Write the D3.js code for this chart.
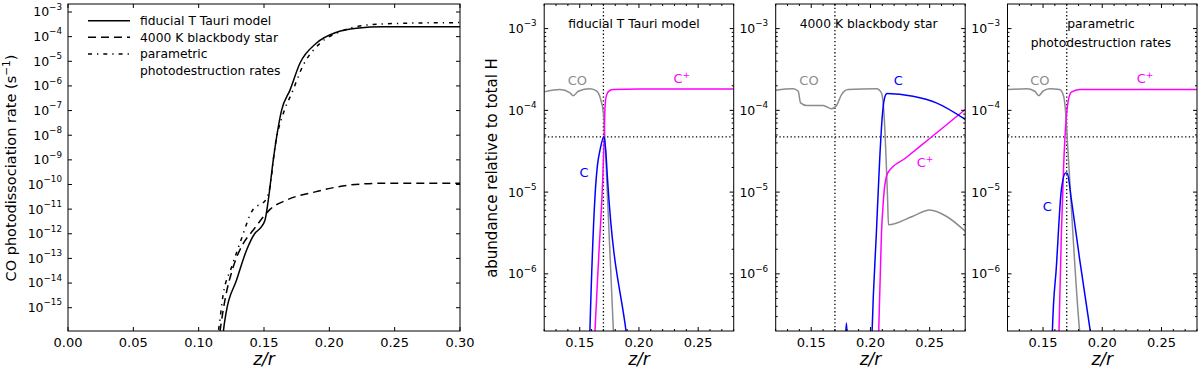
<!DOCTYPE html>
<html><head><meta charset="utf-8">
<script src="https://cdn.jsdelivr.net/npm/d3@7"></script>
<style>body{margin:0;background:#fff} svg{display:block} text{font-family:"DejaVu Sans",sans-serif}</style>
</head><body><svg id="c" width="1200" height="376"></svg>
<script>
// ---------------- DATA ----------------
// Left panel: CO photodissociation rate (log10 s^-1) vs z/r
const fidRateZ   = [0.118, 0.1189, 0.1209, 0.129, 0.1367, 0.1431, 0.147, 0.1508, 0.1533, 0.1571, 0.1635, 0.1699, 0.1775, 0.19, 0.2056, 0.2209, 0.2413, 0.27, 0.30];
const fidRateLog = [-16.5, -15.97, -15.23, -13.88, -12.66, -11.98, -11.78, -11.44, -10.63, -9.0, -6.98, -6.17, -5.08, -4.27, -3.82, -3.66, -3.6, -3.6, -3.6];
const bbRateZ    = [0.115, 0.1163, 0.1201, 0.1265, 0.1342, 0.1418, 0.1495, 0.1546, 0.1674, 0.19, 0.2158, 0.2413, 0.27, 0.30];
const bbRateLog  = [-16.5, -15.97, -14.69, -13.34, -12.39, -11.85, -11.31, -11.01, -10.63, -10.29, -10.02, -9.95, -9.95, -9.95];
const parRateZ   = [0.113, 0.115, 0.1189, 0.1253, 0.1329, 0.1406, 0.1521, 0.1546, 0.1584, 0.1648, 0.1712, 0.1801, 0.1929, 0.2082, 0.2286, 0.2541, 0.30];
const parRateLog = [-16.5, -15.97, -14.42, -13.34, -12.18, -11.1, -10.56, -10.09, -8.47, -7.11, -6.3, -5.15, -4.27, -3.8, -3.53, -3.46, -3.43];
const legendLabels = ["fiducial T Tauri model", "4000 K blackbody star", "parametric", "photodestruction rates"];
const leftXTicks = [0.00, 0.05, 0.10, 0.15, 0.20, 0.25, 0.30];
const leftYTickExp = [-3, -4, -5, -6, -7, -8, -9, -10, -11, -12, -13, -14, -15];

// Panel "fiducial T Tauri model": abundances (log10)
const fidCOZ  = [0.12, 0.1333, 0.1418, 0.1446, 0.1488, 0.1587, 0.1644, 0.1677, 0.17, 0.1715, 0.1728, 0.1784, 0.18];
const fidCOLog= [-3.774, -3.746, -3.786, -3.82, -3.766, -3.737, -3.766, -3.868, -4.03, -4.4, -4.85, -6.69, -7.2];
const fidCpZ  = [0.162, 0.1629, 0.166, 0.1694, 0.1705, 0.1714, 0.1725, 0.175, 0.1784, 0.20, 0.28];
const fidCpLog= [-7.0, -6.69, -5.8, -4.85, -4.4, -3.95, -3.82, -3.76, -3.745, -3.74, -3.74];
const fidCZ   = [0.158, 0.1586, 0.1629, 0.1649, 0.1672, 0.1705, 0.172, 0.1735, 0.189, 0.19];
const fidCLog = [-7.0, -6.69, -5.05, -4.68, -4.48, -4.32, -4.5, -4.85, -6.69, -6.8];

// Panel "4000 K blackbody star"
const bbCOZ   = [0.12, 0.1348, 0.139, 0.141, 0.1461, 0.1601, 0.1672, 0.1714, 0.1756, 0.1811, 0.2051, 0.2093, 0.2112, 0.2145, 0.2152, 0.2359, 0.2499, 0.264, 0.28];
const bbCOLog = [-3.754, -3.737, -3.766, -3.908, -3.94, -3.94, -3.98, -3.94, -3.807, -3.746, -3.737, -3.786, -3.99, -5.1, -5.40, -5.295, -5.22, -5.295, -5.478];
const bbCZ    = [0.1775, 0.1797, 0.182, 0.19, 0.2005, 0.2014, 0.205, 0.2078, 0.21, 0.2119, 0.214, 0.2359, 0.2556, 0.28];
const bbCLog  = [-7.2, -6.6, -7.2, -7.5, -7.2, -6.7, -5.5, -4.6, -4.07, -3.85, -3.795, -3.828, -3.908, -4.11];
const bbCpZ   = [0.2065, 0.207, 0.2093, 0.2106, 0.212, 0.2148, 0.23, 0.25, 0.265, 0.28];
const bbCpLog = [-7.0, -6.7, -5.5, -5.17, -4.93, -4.76, -4.58, -4.344, -4.167, -3.99];

// Panel "parametric photodestruction rates"
const parCOZ  = [0.12, 0.136, 0.143, 0.1464, 0.15, 0.1556, 0.164, 0.1674, 0.1691, 0.171, 0.1809, 0.183];
const parCOLog= [-3.746, -3.737, -3.766, -3.82, -3.766, -3.737, -3.746, -3.828, -4.03, -4.48, -6.7, -7.0];
const parCpZ  = [0.163, 0.1635, 0.1655, 0.1674, 0.1691, 0.171, 0.1739, 0.1809, 0.28];
const parCpLog= [-7.0, -6.7, -5.5, -4.68, -4.19, -3.908, -3.778, -3.746, -3.746];
const parCZ   = [0.1575, 0.1579, 0.1613, 0.1655, 0.1691, 0.1705, 0.1739, 0.1809, 0.1899, 0.191];
const parCLog = [-7.0, -6.7, -5.906, -4.97, -4.765, -4.77, -5.09, -5.82, -6.7, -6.8];

const panelTitles = [["fiducial T Tauri model"], ["4000 K blackbody star"], ["parametric", "photodestruction rates"]];
// species label positions [z, log10 abundance]
const labelCO = [[0.148, -3.636], [0.1481, -3.636], [0.1474, -3.636]];
const labelC  = [[0.1536, -4.765], [0.2235, -3.636], [0.1535, -5.17]];
const labelCp = [[0.2361, -3.615], [0.2461, -4.643], [0.2361, -3.615]];
const rightXTicks = [0.15, 0.20, 0.25];
const rightYTickExp = [-3, -4, -5, -6];
const refAbund = 4.73e-5;   // horizontal dotted reference
const refZ = 0.17;          // vertical dotted reference

// ---------------- DRAW ----------------
const svg = d3.select('#c');
const zip = (a, b) => a.map((v, i) => [v, b[i]]);
const TOP = 4, BOT = 331;

function yTickLabel(g, x, y, exp, size) {
  const t = g.append('text').attr('x', x).attr('y', y + 4.4).attr('text-anchor', 'end')
    .attr('font-size', size).attr('fill', '#000').text('10');
  t.append('tspan').attr('font-size', size * 0.7).attr('dy', -6.6).text('\u2212' + Math.abs(exp));
}

function frameTicks(g, x, y, x0, x1, xMaj, xMin, yMaj, yMin) {
  const tk = g.append('g').attr('stroke', '#000').attr('stroke-width', 1);
  const L = 4, l = 2;
  xMaj.forEach(v => { const px = x(v);
    tk.append('line').attr('x1', px).attr('x2', px).attr('y1', BOT).attr('y2', BOT - L);
    tk.append('line').attr('x1', px).attr('x2', px).attr('y1', TOP).attr('y2', TOP + L); });
  xMin.forEach(v => { const px = x(v);
    tk.append('line').attr('x1', px).attr('x2', px).attr('y1', BOT).attr('y2', BOT - l);
    tk.append('line').attr('x1', px).attr('x2', px).attr('y1', TOP).attr('y2', TOP + l); });
  yMaj.forEach(v => { const py = y(v);
    tk.append('line').attr('x1', x0).attr('x2', x0 + L).attr('y1', py).attr('y2', py);
    tk.append('line').attr('x1', x1).attr('x2', x1 - L).attr('y1', py).attr('y2', py); });
  yMin.forEach(v => { const py = y(v);
    tk.append('line').attr('x1', x0).attr('x2', x0 + l).attr('y1', py).attr('y2', py);
    tk.append('line').attr('x1', x1).attr('x2', x1 - l).attr('y1', py).attr('y2', py); });
  g.append('rect').attr('x', x0).attr('y', TOP).attr('width', x1 - x0).attr('height', BOT - TOP)
    .attr('fill', 'none').attr('stroke', '#000').attr('stroke-width', 1);
}

// ---- Left panel ----
(function () {
  const x0 = 68, x1 = 460;
  const x = d3.scaleLinear().domain([0, 0.30]).range([x0, x1]);
  const y = d3.scaleLog().domain([Math.pow(10, -15.946), Math.pow(10, -2.675)]).range([BOT, TOP]);
  const g = svg.append('g');
  g.append('clipPath').attr('id', 'clipL').append('rect').attr('x', x0).attr('y', TOP).attr('width', x1 - x0).attr('height', BOT - TOP);
  const line = d3.line().x(d => x(d[0])).y(d => y(Math.pow(10, d[1]))).curve(d3.curveMonotoneX);
  const lg = g.append('g').attr('clip-path', 'url(#clipL)').attr('fill', 'none').attr('stroke', '#000').attr('stroke-width', 1.5);
  lg.append('path').attr('d', line(zip(bbRateZ, bbRateLog))).attr('stroke-dasharray', '8,5');
  lg.append('path').attr('d', line(zip(parRateZ, parRateLog))).attr('stroke-dasharray', '4,5,1.3,5');
  lg.append('path').attr('d', line(zip(fidRateZ, fidRateLog)));

  const yMaj = leftYTickExp.map(e => Math.pow(10, e));
  frameTicks(g, x, y, x0, x1, leftXTicks, [], yMaj, []);
  leftXTicks.forEach(v => g.append('text').attr('x', x(v)).attr('y', 346.7).attr('text-anchor', 'middle')
    .attr('font-size', 13).text(d3.format('.2f')(v)));
  leftYTickExp.forEach(e => yTickLabel(g, x0 - 6, y(Math.pow(10, e)), e, 12.5));
  const yl = g.append('text').attr('transform', 'translate(15.5,168) rotate(-90)').attr('text-anchor', 'middle')
    .attr('font-size', 14.5).text('CO photodissociation rate (s');
  yl.append('tspan').attr('font-size', 10.5).attr('dy', -6).text('\u22121');
  yl.append('tspan').attr('dy', 6).text(')');
  g.append('text').attr('x', (x0 + x1) / 2).attr('y', 365).attr('text-anchor', 'middle')
    .attr('font-family', '"Liberation Serif",serif').attr('font-style', 'italic').attr('font-size', 17).text('z/r');

  // legend
  const lgd = g.append('g');
  const rows = [[20.7, null], [37.3, '8,5'], [54, '4,5,1.3,5']];
  rows.forEach((r, i) => {
    const l = lgd.append('line').attr('x1', 88).attr('x2', 130).attr('y1', r[0]).attr('y2', r[0])
      .attr('stroke', '#000').attr('stroke-width', 1.5);
    if (r[1]) l.attr('stroke-dasharray', r[1]);
  });
  [25, 41.6, 58.3, 75].forEach((by, i) => lgd.append('text').attr('x', 140).attr('y', by)
    .attr('font-size', 12.3).text(legendLabels[i]));
})();

// ---- Right panels ----
const rightPanels = [
  { x0: 544.2, co: zip(fidCOZ, fidCOLog), c: zip(fidCZ, fidCLog), cp: zip(fidCpZ, fidCpLog), tx: 634, ylabel: true },
  { x0: 775.7, co: zip(bbCOZ, bbCOLog),  c: zip(bbCZ, bbCLog),   cp: zip(bbCpZ, bbCpLog),   tx: 868.7 },
  { x0: 1007.5, co: zip(parCOZ, parCOLog), c: zip(parCZ, parCLog), cp: zip(parCpZ, parCpLog), tx: 1101 }
];
const PW = 189.5;
const grey = '#8c8c8c', blue = '#0000ff', mag = '#ff00ff';
rightPanels.forEach((p, i) => {
  const x0 = p.x0, x1 = p.x0 + PW;
  const x = d3.scaleLinear().domain([0.12, 0.28]).range([x0, x1]);
  const y = d3.scaleLog().domain([2e-7, 2e-3]).range([BOT, TOP]);
  const g = svg.append('g');
  const cid = 'clipR' + i;
  g.append('clipPath').attr('id', cid).append('rect').attr('x', x0).attr('y', TOP).attr('width', PW).attr('height', BOT - TOP);
  const line = d3.line().x(d => x(d[0])).y(d => y(Math.pow(10, d[1]))).curve(d3.curveMonotoneX);
  const cg = g.append('g').attr('clip-path', `url(#${cid})`).attr('fill', 'none');
  // dotted references
  cg.append('line').attr('x1', x0).attr('x2', x1).attr('y1', y(refAbund)).attr('y2', y(refAbund))
    .attr('stroke', '#000').attr('stroke-width', 1.3).attr('stroke-dasharray', '1.3,2.4');
  cg.append('line').attr('x1', x(refZ)).attr('x2', x(refZ)).attr('y1', TOP).attr('y2', BOT)
    .attr('stroke', '#000').attr('stroke-width', 1.3).attr('stroke-dasharray', '1.3,2.4');
  cg.append('path').attr('d', line(p.co)).attr('stroke', grey).attr('stroke-width', 1.5);
  cg.append('path').attr('d', line(p.cp)).attr('stroke', mag).attr('stroke-width', 1.5);
  cg.append('path').attr('d', line(p.c)).attr('stroke', blue).attr('stroke-width', 1.5);

  const xMin = d3.range(12, 29).map(k => k / 100).filter(v => !rightXTicks.some(t => Math.abs(t - v) < 1e-9));
  const yMaj = rightYTickExp.map(e => Math.pow(10, e));
  const yMin = [];
  for (let d = -7; d <= -3; d++) for (let m = 2; m <= 9; m++) { const v = m * Math.pow(10, d); if (v > 2e-7 && v < 2e-3) yMin.push(v); }
  frameTicks(g, x, y, x0, x1, rightXTicks, xMin, yMaj, yMin);
  rightXTicks.forEach(v => g.append('text').attr('x', x(v)).attr('y', 346.7).attr('text-anchor', 'middle')
    .attr('font-size', 13).text(d3.format('.2f')(v)));
  rightYTickExp.forEach(e => yTickLabel(g, x0 - 7.5, y(Math.pow(10, e)), e, 12.5));
  g.append('text').attr('x', (x0 + x1) / 2).attr('y', 365).attr('text-anchor', 'middle')
    .attr('font-family', '"Liberation Serif",serif').attr('font-style', 'italic').attr('font-size', 17).text('z/r');
  if (p.ylabel) g.append('text').attr('transform', 'translate(497,168) rotate(-90)').attr('text-anchor', 'middle')
    .attr('font-size', 15).text('abundance relative to total H');
  panelTitles[i].forEach((t, k) => g.append('text').attr('x', p.tx).attr('y', 28.3 + k * 18.4)
    .attr('text-anchor', 'middle').attr('font-size', 12.3).text(t));
  // species labels
  const lab = (pos, txt, col, sup) => {
    const t = g.append('text').attr('x', x(pos[0])).attr('y', y(Math.pow(10, pos[1])) + 4.5)
      .attr('text-anchor', 'middle').attr('font-size', 13).attr('fill', col).text(txt);
    if (sup) t.append('tspan').attr('font-size', 9).attr('dy', -5.5).text(sup);
  };
  lab(labelCO[i], 'CO', grey);
  lab(labelC[i], 'C', blue);
  lab(labelCp[i], 'C', mag, '+');
});
</script></body></html>
